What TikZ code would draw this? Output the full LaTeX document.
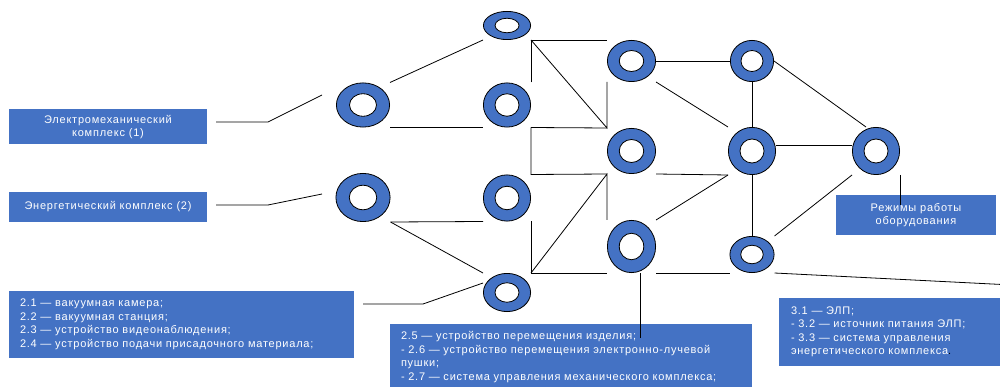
\documentclass[tikz,border=0pt]{standalone}
\usepackage{fontspec}
\setmainfont{Liberation Sans}[LetterSpace=7]
\definecolor{ringblue}{HTML}{4472C4}
\tikzset{
  ring/.style 2 args={rectangle, inner sep=0pt, outer sep=0pt, minimum width=#1, minimum height=#2,
    path picture={
      \draw [black, line width=0.8pt, fill=ringblue] (path picture bounding box.center) ellipse ({#1pt/2-0.4pt} and {#2pt/2-0.4pt});
      \draw [black, line width=0.8pt, fill=white] (path picture bounding box.center) ellipse ({#1pt/4} and {#2pt/4});}},
  labelbox/.style={fill=ringblue, text=white, inner sep=0pt, outer sep=0pt, font=\fontsize{11}{13.5}\selectfont},
  link/.style={black, line width=0.8pt},
}
\begin{document}
\begin{tikzpicture}[x=1pt, y=-1pt]
\useasboundingbox (0,0) rectangle (1000,387);
\node [ring={48}{29}] (a0) at (507,25.5) {};
\node [ring={54}{45}] (b1) at (363,105) {};
\node [ring={48}{45}] (m1) at (507,105) {};
\node [ring={55}{49}] (b2) at (363,197.5) {};
\node [ring={48}{47}] (m2) at (507,198) {};
\node [ring={48}{39}] (m3) at (507,292.5) {};
\node [ring={49}{42}] (c1) at (631.5,61) {};
\node [ring={49}{46}] (c2) at (631.5,151) {};
\node [ring={49}{53}] (c3) at (631.5,246.5) {};
\node [ring={44}{42}] (d1) at (752,61) {};
\node [ring={48}{48}] (d2) at (752,151) {};
\node [ring={45}{37}] (d3) at (752,254.5) {};
\node [ring={48}{48}] (e) at (876,151) {};

\node [labelbox, minimum width=198, minimum height=35, align=center] (lab1) at (108,127) {Электромеханический\\комплекс (1)};
\node [labelbox, minimum width=198, minimum height=30, align=center] (lab2) at (108,207) {Энергетический комплекс (2)};
\node [labelbox, minimum width=345, minimum height=67, text width=323, align=left] (lab3) at (181.5,324.5)
  {2.1 — вакуумная камера;\\2.2 — вакуумная станция;\\2.3 — устройство видеонаблюдения;\\2.4 — устройство подачи присадочного материала;};
\node [labelbox, minimum width=362, minimum height=66, text width=340, align=left] (lab4) at (571,357)
  {2.5 — устройство перемещения изделия;\\- 2.6 — устройство перемещения электронно-лучевой\\пушки;\\- 2.7 — система управления механического комплекса;};
\node [labelbox, minimum width=221, minimum height=68, text width=197, align=left] (lab5) at (889.5,332)
  {3.1 — ЭЛП;\\- 3.2 — источник питания ЭЛП;\\- 3.3 — система управления\\энергетического комплекса{\color{black}.}};
\node [labelbox, minimum width=160, minimum height=40, align=center] (lab6) at (916,215) {Режимы работы\\оборудования};

\coordinate (l1s) at (216,122);
\coordinate (l1m) at (268,122);
\coordinate (l1e) at (322,95);
\coordinate (l2s) at (216,205);
\coordinate (l2m) at (268,205);
\coordinate (l2e) at (322,194);
\coordinate (l3s) at (363,304);
\coordinate (l3m) at (423,304);
\coordinate (l3e) at (483,283);
\coordinate (c3tail) at (640,338);
\coordinate (etail) at (900,205);
\coordinate (rimend) at (1002,284.5);

\draw [link] (l1s) -- (l1m) -- (l1e);
\draw [link] (l2s) -- (l2m) -- (l2e);
\draw [link] (l3s) -- (l3m) -- (l3e);
\draw [link] (b1.north east) -- (a0.south west);
\draw [link] (b1.south east) -- (m1.south west);
\draw [link] (m1.north east) -- (a0.south east) -- (c1.north west);
\draw [link] (a0.south east) -- (c2.north west) -- (c1.south west);
\draw [link] (m1.south east) -- (c2.north west);
\draw [link] (m1.south east) -- (m2.north east) -- (c2.south west);
\draw [link] (m3.north east) -- (c2.south west) -- (c3.north west);
\draw [link] (m2.south east) -- (m3.north east) -- (c3.south west);
\draw [link] (b2.south east) -- (m2.south west);
\draw [link] (b2.south east) -- (m3.north west);
\draw [link] (c1.east) -- (d1.west);
\draw [link] (c1.south east) -- (d2.north west);
\draw [link] (d1.south) -- (d2.north);
\draw [link] (d1.east) -- ([xshift=-10pt]e.north);
\draw [link] ([yshift=6pt]d2.east) -- ([yshift=6pt]e.west);
\draw [link] (c2.south east) -- (d2.south west);
\draw [link] (c3.north east) -- (d2.south west);
\draw [link] (d2.south) -- (d3.north);
\draw [link] (d3.north east) -- (e.south west);
\draw [link] (c3.south east) -- (d3.south west);
\draw [link] (d3.south east) -- (rimend);
\draw [link] (c3.south -| c3tail) -- (c3tail);
\draw [link] (e.south east) -- (etail);
\end{tikzpicture}
\end{document}
